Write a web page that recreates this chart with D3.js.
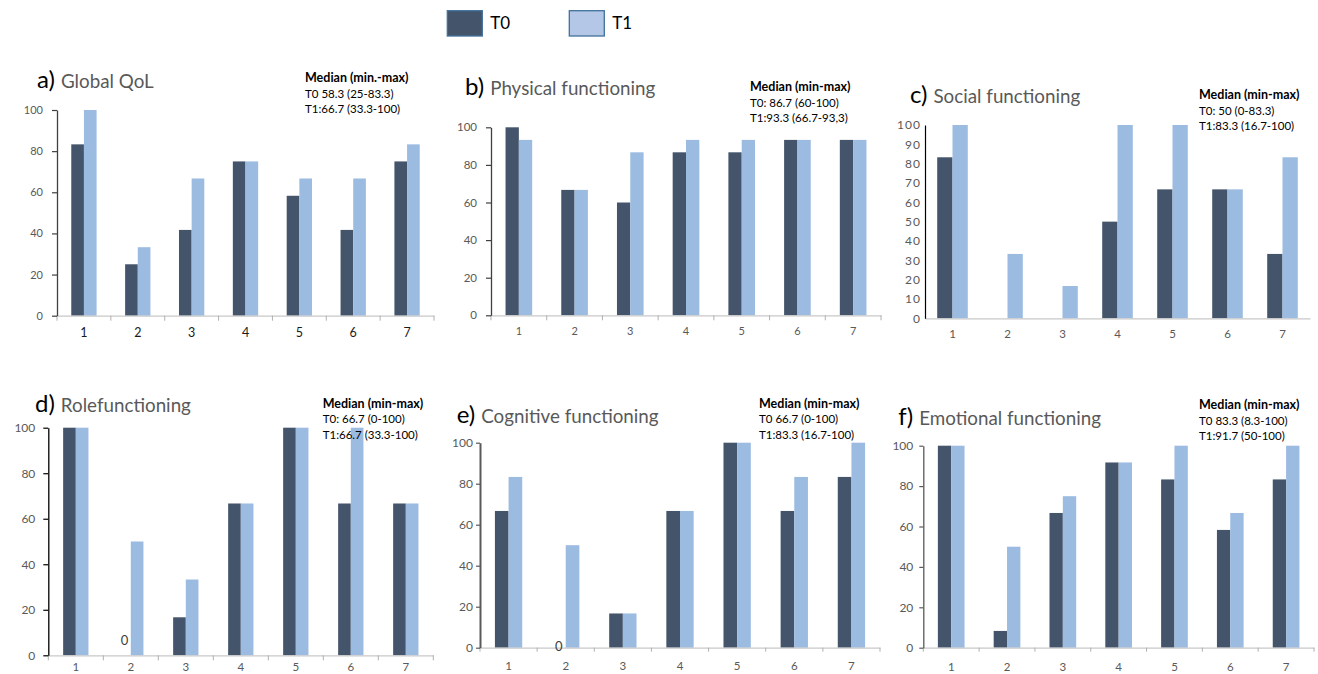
<!DOCTYPE html>
<html><head><meta charset="utf-8">
<script src="https://cdn.jsdelivr.net/npm/d3@7"></script>
<style>body{margin:0;background:#fff} svg{display:block;font-family:Lato,'Open Sans',sans-serif}</style>
</head><body><svg id="chart" width="1318" height="674"></svg>
<script>
// ---------- DATA ----------
const categories = ["1","2","3","4","5","6","7"];
const seriesNames = ["T0","T1"];
const panelLetters = ["a)","b)","c)","d)","e)","f)"];
const panelTitles = ["Global QoL","Physical functioning","Social functioning","Rolefunctioning","Cognitive functioning","Emotional functioning"];

const globalQoL_T0 = [83.3, 25, 41.7, 75, 58.3, 41.7, 75];
const globalQoL_T1 = [100, 33.3, 66.7, 75, 66.7, 66.7, 83.3];
const physical_T0 = [100, 66.7, 60, 86.7, 86.7, 93.3, 93.3];
const physical_T1 = [93.3, 66.7, 86.7, 93.3, 93.3, 93.3, 93.3];
const social_T0 = [83.3, 0, 0, 50, 66.7, 66.7, 33.3];
const social_T1 = [100, 33.3, 16.7, 100, 100, 66.7, 83.3];
const role_T0 = [100, 0, 16.7, 66.7, 100, 66.7, 66.7];
const role_T1 = [100, 50, 33.3, 66.7, 100, 100, 66.7];
const cognitive_T0 = [66.7, 0, 16.7, 66.7, 100, 66.7, 83.3];
const cognitive_T1 = [83.3, 50, 16.7, 66.7, 100, 83.3, 100];
const emotional_T0 = [100, 8.3, 66.7, 91.7, 83.3, 58.3, 83.3];
const emotional_T1 = [100, 50, 75, 91.7, 100, 66.7, 100];

const medianHeaders = ["Median (min.-max)","Median (min-max)","Median (min-max)","Median (min-max)","Median (min-max)","Median (min-max)"];
const medianT0 = ["T0 58.3 (25-83.3)","T0: 86.7 (60-100)","T0: 50 (0-83.3)","T0: 66.7 (0-100)","T0 66.7 (0-100)","T0 83.3 (8.3-100)"];
const medianT1 = ["T1:66.7 (33.3-100)","T1:93.3 (66.7-93,3)","T1:83.3 (16.7-100)","T1:66.7 (33.3-100)","T1:83.3 (16.7-100)","T1:91.7 (50-100)"];

const yTicks20 = [0, 20, 40, 60, 80, 100];
const yTicks10 = [0, 10, 20, 30, 40, 50, 60, 70, 80, 90, 100];
const zeroLabelPanels = [false, false, false, true, true, false];

const panelT0 = [globalQoL_T0, physical_T0, social_T0, role_T0, cognitive_T0, emotional_T0];
const panelT1 = [globalQoL_T1, physical_T1, social_T1, role_T1, cognitive_T1, emotional_T1];
const panelTicks = [yTicks20, yTicks20, yTicks10, yTicks20, yTicks20, yTicks20];

// ---------- LAYOUT / STYLE ----------
const colors = {T0: "#44546A", T1: "#9BBBE1"};
const layout = [
  {x0:57,  x1:434,  yTop:110,   yBot:315.7, r:0.47,  ytick:5, ypad:9,  yColor:"#404040", yW:1.3, xTick:5, xLabFs:12.5, xLabCol:"#1a1a1a", yLabFs:11, xPad:12,
   tx:37, tBase:88, mx:305, my:78},
  {x0:491, x1:881,  yTop:127.3, yBot:315.3, r:0.478, ytick:5, ypad:9,  yColor:"#404040", yW:1.3, xTick:5, xLabFs:11, xLabCol:"#595959", yLabFs:11.5, xPad:12,
   tx:465, tBase:95, mx:750, my:87},
  {x0:925, x1:1310, yTop:125,   yBot:318.3, r:0.556, ytick:0, ypad:4,  yColor:"#000000", yW:1.2, xTick:0, xLabFs:11.5, xLabCol:"#595959", yLabFs:12, xPad:12,
   tx:910, tBase:102.7, mx:1199, my:95, ySpacing:1},
  {x0:48.3,x1:433.3,yTop:427.7, yBot:655.3, r:0.46,  ytick:5, ypad:8,  yColor:"#000000", yW:1.3, xTick:5, xLabFs:11.5, xLabCol:"#595959", yLabFs:12, xPad:8,
   tx:35, tBase:411.7, mx:322.7, my:403.3, zeroDy:-15},
  {x0:480, x1:880,  yTop:442.7, yBot:647.7, r:0.478, ytick:4, ypad:3,  yColor:"#595959", yW:2, xTick:4, xLabFs:11.5, xLabCol:"#595959", yLabFs:12, xPad:14,
   tx:456.7, tBase:423.3, mx:759, my:403.3, zeroDy:-1},
  {x0:923.3,x1:1314,yTop:445.7, yBot:647.7, r:0.478, ytick:4, ypad:6,  yColor:"#595959", yW:1.3, xTick:4, xLabFs:11.5, xLabCol:"#595959", yLabFs:12, xPad:15,
   tx:898.3, tBase:425, mx:1199, my:405}
];

const svg = d3.select("#chart");

// Legend
const legend = svg.append("g");
const legendX = [447.3, 569.3];
seriesNames.forEach((s, i) => {
  legend.append("rect").attr("x", legendX[i]).attr("y", 10.7).attr("width", 35).attr("height", 25.3)
    .attr("fill", i === 0 ? "#44546A" : "#B4C7E7").attr("stroke", "#41719C").attr("stroke-width", 1.3);
  legend.append("text").attr("x", legendX[i] + 43).attr("y", 28.5).attr("font-size", 17).attr("fill", "#000").text(s);
});

layout.forEach((L, p) => {
  const g = svg.append("g");
  const x = d3.scaleBand().domain(categories).range([L.x0, L.x1]).paddingInner(0).paddingOuter(0);
  const pad = 1 / L.r - 1;
  const xs = d3.scaleBand().domain(seriesNames).range([0, x.bandwidth()]).paddingInner(0).paddingOuter(pad);
  const y = d3.scaleLinear().domain([0, 100]).range([L.yBot, L.yTop]);

  // bars
  const rows = categories.map((c, i) => ({c, T0: panelT0[p][i], T1: panelT1[p][i]}));
  seriesNames.forEach(s => {
    g.selectAll(null).data(rows).join("rect")
      .attr("x", d => x(d.c) + xs(s))
      .attr("y", d => y(d[s]))
      .attr("width", xs.bandwidth())
      .attr("height", d => y(0) - y(d[s]))
      .attr("fill", colors[s]);
  });

  // x axis
  const xAxisG = g.append("g").attr("transform", `translate(0,${L.yBot})`)
    .call(d3.axisBottom(x).tickSize(0).tickPadding(L.xPad));
  xAxisG.select(".domain").attr("stroke", "#c8c8c8").attr("stroke-width", 1.2);
  xAxisG.selectAll("text").attr("font-size", L.xLabFs).attr("fill", L.xLabCol).attr("font-family", "Lato,'Open Sans',sans-serif");
  if (L.xTick > 0) {
    const bounds = categories.map(c => x(c)).concat([L.x1]);
    xAxisG.selectAll(".bt").data(bounds).join("line").attr("class", "bt")
      .attr("x1", d => d).attr("x2", d => d).attr("y1", 0).attr("y2", L.xTick)
      .attr("stroke", "#b0b0b0").attr("stroke-width", 1);
  }

  // y axis
  const yAxisG = g.append("g").attr("transform", `translate(${L.x0},0)`)
    .call(d3.axisLeft(y).tickValues(panelTicks[p]).tickSize(L.ytick).tickPadding(L.ypad).tickSizeOuter(0));
  yAxisG.select(".domain").attr("stroke", L.yColor).attr("stroke-width", L.yW);
  yAxisG.selectAll(".tick line").attr("stroke", L.yColor).attr("stroke-width", 1.2);
  yAxisG.selectAll("text").attr("font-size", L.yLabFs).attr("fill", "#595959").attr("font-family", "Lato,'Open Sans',sans-serif")
    .attr("letter-spacing", L.ySpacing || 0);

  // zero data labels
  if (zeroLabelPanels[p]) {
    g.selectAll(null).data(rows.filter(d => d.T0 === 0)).join("text")
      .attr("x", d => x(d.c) + xs("T0") + xs.bandwidth() / 2)
      .attr("y", d => y(d.T0) + L.zeroDy)
      .attr("dy", "0.35em").attr("text-anchor", "middle")
      .attr("font-size", 13).attr("fill", "#404040").text("0");
  }

  // title
  const t = g.append("text").attr("x", L.tx).attr("y", L.tBase);
  t.append("tspan").attr("font-size", 24).attr("fill", "#000").text(panelLetters[p]);
  t.append("tspan").attr("dx", 6).attr("font-size", 18.8).attr("fill", "#595959").text(panelTitles[p]);

  // median box
  const m = g.append("text").attr("x", L.mx).attr("y", L.my).attr("font-size", 11.5).attr("fill", "#000");
  m.append("tspan").attr("x", L.mx).attr("dy", "0.35em").attr("font-weight", "bold").attr("font-size", 12.5).text(medianHeaders[p]);
  m.append("tspan").attr("x", L.mx).attr("dy", 15.5).text(medianT0[p]);
  m.append("tspan").attr("x", L.mx).attr("dy", 15.5).text(medianT1[p]);
});
</script>
</body></html>
